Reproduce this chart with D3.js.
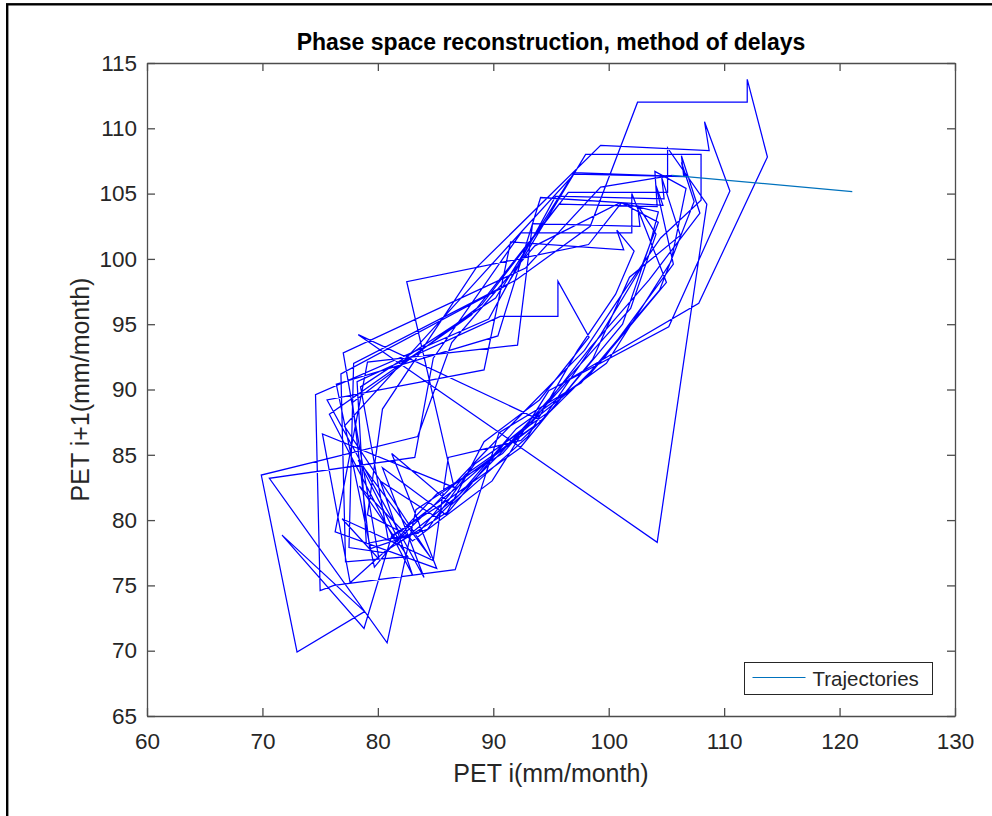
<!DOCTYPE html>
<html>
<head>
<meta charset="utf-8">
<script src="https://cdn.jsdelivr.net/npm/d3@7"></script>
<style>
  body { margin: 0; background: #fff; }
  svg text { font-family: "Liberation Sans", Arial, Helvetica, sans-serif; }
</style>
</head>
<body>
<div id="container"></div>
<script>
//---------------------------------------------------------
// DATA

// monthly PET series (mm/month): point i = (pet[i], pet[i+1])
const pet = [
  84.2, 80.6, 77.5, 77.9, 92.0, 98.4, 102.5, 112.0, 112.0, 113.75, 107.8, 96.6, 90.8, 85.1,
  82.0, 79.1, 80.4, 88.5, 99.3, 108.7, 108.3, 110.5, 105.2, 94.8, 89.9, 83.0,
  78.4, 82.6, 77.2, 76.8, 91.2, 98.0, 108.0, 108.0, 104.5, 101.6, 97.9, 93.0, 88.6, 84.6,
  80.9, 78.5, 90.2, 97.0, 106.6, 106.3, 107.4, 104.4, 97.6, 90.5, 86.7, 76.2,
  75.0, 74.6, 89.6, 95.4, 104.8, 104.6, 106.2, 101.8, 98.6, 92.3, 85.5, 81.2,
  78.8, 71.7, 78.85, 73.0, 69.9, 83.45, 86.4, 93.6, 101.0, 104.3, 103.6, 101.2, 95.0, 88.4, 84.3,
  79.3, 77.8, 89.0, 96.5, 105.1, 105.1, 108.5, 104.2, 78.3, 94.2, 87.6, 83.5,
  79.0, 78.2, 90.6, 95.6, 95.6, 98.3, 94.0, 89.2, 86.0, 80.6,
  77.6, 75.2, 86.6, 82.5, 98.25, 101.1, 104.3, 102.8, 99.3, 94.2, 87.6, 83.3,
  80.8, 70.6, 83.2, 84.8, 92.4, 102.0, 102.0, 105.0, 98.2, 91.0, 85.9, 80.4,
  84.0, 75.6, 89.2, 91.5, 101.3, 100.7, 102.2, 100.6, 97.3, 93.0, 86.4, 81.2,
  85.1, 76.3, 79.1, 92.1, 93.4, 102.7, 102.5, 104.1, 101.9, 96.2, 90.6, 85.1, 80.2,
  83.0, 75.8, 88.1, 95.7, 104.2, 104.0, 106.7, 105.4, 99.8, 92.0, 87.0, 81.9,
  78.3, 84.6, 77.1, 87.2, 97.0, 106.5, 106.3, 107.9, 103.5, 98.4, 93.2, 87.3, 82.8,
  79.7, 76.4, 90.4, 94.1, 104.7, 104.1, 105.6, 99.6, 92.4, 86.1, 84.8, 76.9,
  80.1, 77.0, 92.8, 99.3, 105.5, 106.4
]

// last reconstructed point and the projected one (light blue segment)
const projX = [105.5, 121.1]
const projY = [106.4, 105.15]

const xTicks = [60, 70, 80, 90, 100, 110, 120, 130]
const yTicks = [65, 70, 75, 80, 85, 90, 95, 100, 105, 110, 115]

const titleText = 'Phase space reconstruction, method of delays'
const xLabel = 'PET i(mm/month)'
const yLabel = 'PET i+1(mm/month)'
const legendText = 'Trajectories'

//---------------------------------------------------------
// SETUP

const width = 992
const height = 816
const plot = {left: 147, right: 955, top: 63, bottom: 716}

const axisColor = '#4d4d4d'
const textColor = '#262626'
const trajColor = '#0000ff'
const projColor = '#0072bd'

const svg = d3.select('#container').append('svg')
  .attr('width', width)
  .attr('height', height)

svg.append('rect')
  .attr('width', width)
  .attr('height', height)
  .attr('fill', '#fff')

// outer figure frame (runs off the right and bottom edges)
svg.append('rect')
  .attr('x', 7.2)
  .attr('y', 4.3)
  .attr('width', 1000)
  .attr('height', 900)
  .attr('fill', 'none')
  .attr('stroke', '#000')
  .attr('stroke-width', 2.4)

const x = d3.scaleLinear().domain([60, 130]).range([plot.left, plot.right])
const y = d3.scaleLinear().domain([65, 115]).range([plot.bottom, plot.top])

//---------------------------------------------------------
// AXES

const styleAxis = g => {
  g.select('.domain').attr('stroke', axisColor).attr('stroke-width', 1.3)
  g.selectAll('.tick line').attr('stroke', axisColor).attr('stroke-width', 1.3)
  g.selectAll('.tick text').attr('fill', textColor).style('font-size', '22.5px')
}

svg.append('g')
  .attr('transform', `translate(0,${plot.bottom})`)
  .call(d3.axisBottom(x).tickValues(xTicks).tickSizeInner(-8).tickSizeOuter(0).tickPadding(17))
  .call(styleAxis)

svg.append('g')
  .attr('transform', `translate(0,${plot.top})`)
  .call(d3.axisTop(x).tickValues(xTicks).tickSizeInner(-8).tickSizeOuter(0).tickFormat(''))
  .call(styleAxis)

svg.append('g')
  .attr('transform', `translate(${plot.left},0)`)
  .call(d3.axisLeft(y).tickValues(yTicks).tickSizeInner(-8).tickSizeOuter(0).tickPadding(10))
  .call(styleAxis)

svg.append('g')
  .attr('transform', `translate(${plot.right},0)`)
  .call(d3.axisRight(y).tickValues(yTicks).tickSizeInner(-8).tickSizeOuter(0).tickFormat(''))
  .call(styleAxis)

//---------------------------------------------------------
// TRAJECTORY

const points = d3.pairs(pet)

const line = d3.line()
  .x(d => x(d[0]))
  .y(d => y(d[1]))

svg.append('path')
  .datum(points)
  .attr('d', line)
  .attr('fill', 'none')
  .attr('stroke', trajColor)
  .attr('stroke-width', 1.25)
  .attr('stroke-linejoin', 'miter')

svg.append('path')
  .datum(d3.zip(projX, projY))
  .attr('d', line)
  .attr('fill', 'none')
  .attr('stroke', projColor)
  .attr('stroke-width', 1.2)

//---------------------------------------------------------
// TEXT

svg.append('text')
  .attr('x', (plot.left + plot.right) / 2)
  .attr('y', 50)
  .attr('text-anchor', 'middle')
  .style('font-size', '23px')
  .style('font-weight', 'bold')
  .attr('fill', '#000')
  .text(titleText)

svg.append('text')
  .attr('x', (plot.left + plot.right) / 2)
  .attr('y', 782)
  .attr('text-anchor', 'middle')
  .style('font-size', '25px')
  .attr('fill', textColor)
  .text(xLabel)

svg.append('text')
  .attr('transform', `translate(89,${(plot.top + plot.bottom) / 2}) rotate(-90)`)
  .attr('text-anchor', 'middle')
  .style('font-size', '25px')
  .attr('fill', textColor)
  .text(yLabel)

//---------------------------------------------------------
// LEGEND

const legend = svg.append('g').attr('transform', 'translate(744.5,662.5)')

legend.append('rect')
  .attr('width', 188)
  .attr('height', 32)
  .attr('fill', '#fff')
  .attr('stroke', textColor)
  .attr('stroke-width', 1)

legend.append('line')
  .attr('x1', 8).attr('x2', 61)
  .attr('y1', 15).attr('y2', 15)
  .attr('stroke', projColor)
  .attr('stroke-width', 1.2)

legend.append('text')
  .attr('x', 68)
  .attr('y', 23.5)
  .style('font-size', '20.5px')
  .attr('fill', textColor)
  .text(legendText)
</script>
</body>
</html>
